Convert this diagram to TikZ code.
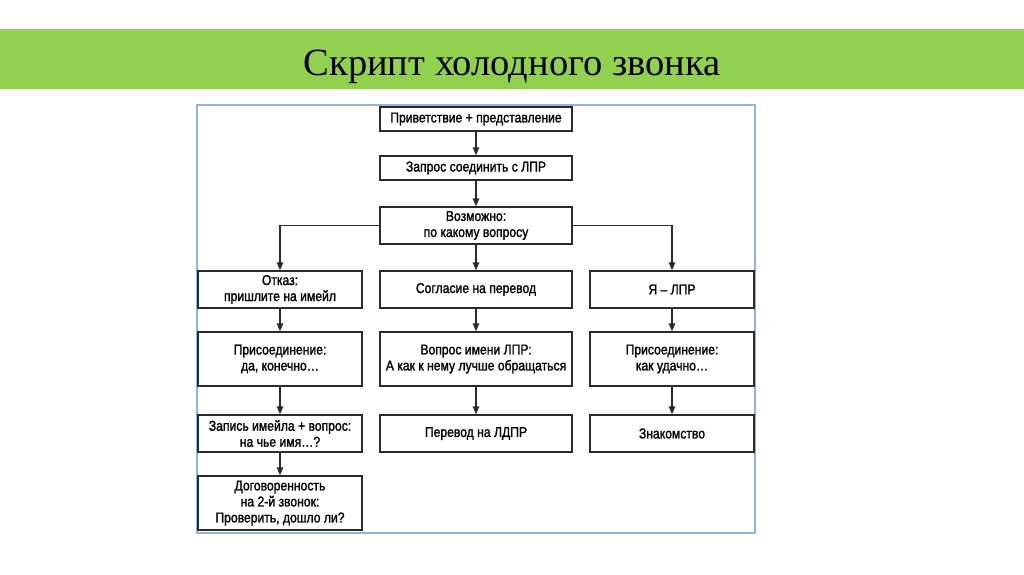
\documentclass[tikz,border=0pt]{standalone}
\usepackage{fontspec}
\setmainfont{Liberation Sans}
\newfontfamily\boxfont[FakeStretch=0.85,FakeBold=1.5]{Liberation Sans}
\newfontfamily\titlefont{Liberation Serif}
\usetikzlibrary{arrows.meta,positioning}
\definecolor{bandgreen}{HTML}{92D050}
\definecolor{framblue}{HTML}{8EB4E3}
\definecolor{boxline}{HTML}{2A2A2A}
\begin{document}
\begin{tikzpicture}[x=1pt,y=-1pt,
  flowbox/.style={draw=boxline,line width=1.4pt,rectangle,align=center,inner sep=0pt,
    font=\boxfont\fontsize{14.3}{16}\selectfont,text=black},
  wbox/.style={flowbox,minimum width=192pt},
  sbox/.style={flowbox,minimum width=164pt},
  lowbox/.style={minimum height=24pt},
  midbox/.style={minimum height=37pt},
  tallbox/.style={minimum height=54pt},
  flowarrow/.style={draw=boxline,line width=1.4pt,-{Triangle[width=6.5pt,length=8pt]}}]
\useasboundingbox (0,0) rectangle (1024,574);
\fill[white] (0,0) rectangle (1024,574);
\fill[bandgreen] (0,29) rectangle (1024,89);
\node[font=\titlefont\fontsize{38.5}{44}\selectfont,anchor=base,inner sep=0pt] (title) at (512,75) {Скрипт холодного звонка};
\draw[framblue,line width=1.8pt] (197,105) rectangle (755,533);

\node[wbox,lowbox] (b1) at (476,119) {Приветствие + представление};
\node[wbox,lowbox] (b2) at (476,168) {Запрос соединить с ЛПР};
\node[wbox,midbox] (b3) at (476,225.5) {Возможно:\\по какому вопросу};

\node[sbox,midbox] (l1) at (280,289.5) {Отказ:\\пришлите на имейл};
\node[wbox,midbox] (m1) at (476,289.5) {Согласие на перевод};
\node[sbox,midbox] (r1) at (672,289.5) {Я – ЛПР};

\node[sbox,tallbox] (l2) at (280,359) {Присоединение:\\да, конечно…};
\node[wbox,tallbox] (m2) at (476,359) {Вопрос имени ЛПР:\\А как к нему лучше обращаться};
\node[sbox,tallbox] (r2) at (672,359) {Присоединение:\\как удачно…};

\node[sbox,midbox] (l3) at (280,433.5) {Запись имейла + вопрос:\\на чье имя…?};
\node[wbox,midbox] (m3) at (476,433.5) {Перевод на ЛДПР};
\node[sbox,midbox] (r3) at (672,433.5) {Знакомство};

\node[sbox,tallbox] (l4) at (280,503) {Договоренность\\на 2-й звонок:\\Проверить, дошло ли?};

\draw[flowarrow] (b1) -- (b2);
\draw[flowarrow] (b2) -- (b3);
\draw[flowarrow] (b3) -- (m1);
\draw[flowarrow] (b3.west) -| (l1.north);
\draw[flowarrow] (b3.east) -| (r1.north);
\draw[flowarrow] (l1) -- (l2);
\draw[flowarrow] (l2) -- (l3);
\draw[flowarrow] (l3) -- (l4);
\draw[flowarrow] (m1) -- (m2);
\draw[flowarrow] (m2) -- (m3);
\draw[flowarrow] (r1) -- (r2);
\draw[flowarrow] (r2) -- (r3);
\end{tikzpicture}
\end{document}
